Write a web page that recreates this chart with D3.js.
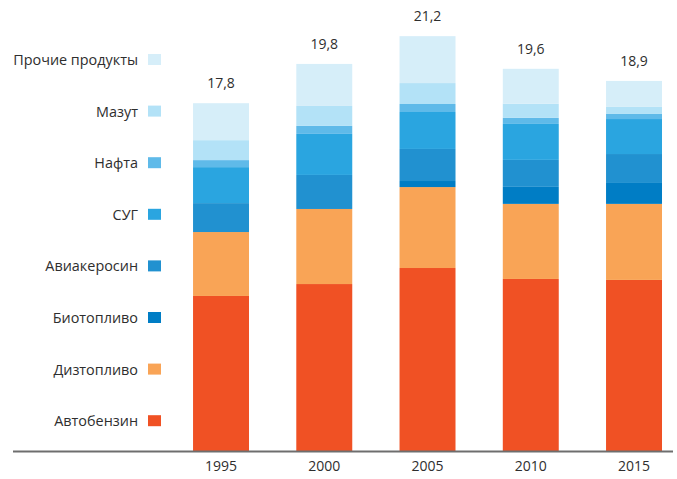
<!DOCTYPE html>
<html>
<head>
<meta charset="utf-8">
<script src="https://cdn.jsdelivr.net/npm/d3@7"></script>
<style>
  html, body { margin: 0; padding: 0; background: #fff; }
  svg { display: block; }
  text { font-family: "Open Sans", sans-serif; fill: #2e2e2e; }
</style>
</head>
<body>
<svg id="chart" width="677" height="479"></svg>
<script>
const years = ["1995", "2000", "2005", "2010", "2015"];
const totals = ["17,8", "19,8", "21,2", "19,6", "18,9"];
const seriesNames = ["Автобензин", "Дизтопливо", "Биотопливо", "Авиакеросин", "СУГ", "Нафта", "Мазут", "Прочие продукты"];
const avtobenzin = [7.93, 8.54, 9.36, 8.80, 8.75];
const diztoplivo = [3.27, 3.84, 4.14, 3.84, 3.89];
const biotoplivo = [0.00, 0.00, 0.31, 0.87, 1.07];
const aviakerosin = [1.48, 1.74, 1.64, 1.38, 1.48];
const sug = [1.84, 2.10, 1.89, 1.84, 1.79];
const nafta = [0.36, 0.41, 0.41, 0.31, 0.26];
const mazut = [1.02, 1.02, 1.07, 0.72, 0.36];
const prochie = [1.89, 2.15, 2.40, 1.79, 1.33];
const colors = ["#f05124", "#f9a456", "#007dc5", "#2191d0", "#2aa5e0", "#5fbae9", "#b3e2f7", "#d6eef9"];

const seriesValues = [avtobenzin, diztoplivo, biotoplivo, aviakerosin, sug, nafta, mazut, prochie];
const table = years.map((y, i) => {
  const row = { year: y };
  seriesNames.forEach((s, k) => row[s] = seriesValues[k][i]);
  return row;
});

const svg = d3.select("#chart");
const baseY = 451;
const y = d3.scaleLinear().domain([0, 22]).range([baseY, baseY - 22 * 19.55]);
const x = d3.scaleBand().domain(years).range([169.4, 685.65]).paddingInner(0.458).paddingOuter(0.229);
const color = d3.scaleOrdinal().domain(seriesNames).range(colors);

const stack = d3.stack().keys(seriesNames);
const stacked = stack(table);

svg.append("g").selectAll("g").data(stacked).join("g")
  .attr("fill", d => color(d.key))
  .selectAll("rect").data(d => d).join("rect")
  .attr("x", d => x(d.data.year))
  .attr("width", x.bandwidth())
  .attr("y", d => y(d[1]))
  .attr("height", d => y(d[0]) - y(d[1]));

// totals
svg.append("g").selectAll("text").data(years).join("text")
  .attr("x", d => x(d) + x.bandwidth() / 2)
  .attr("y", (d, i) => y(d3.sum(seriesValues, s => s[i])) - 15)
  .attr("text-anchor", "middle")
  .style("font-size", "14px")
  .text((d, i) => totals[i]);

// axis
const axis = d3.axisBottom(x).tickSize(0).tickPadding(10);
const gx = svg.append("g").attr("transform", `translate(0,${baseY})`).call(axis);
gx.select(".domain").remove();
gx.selectAll("text").style("font-size", "14px").style("font-family", "'Open Sans', sans-serif").attr("fill", "#2e2e2e");
svg.append("line").attr("x1", 13).attr("x2", 673).attr("y1", baseY + 0.5).attr("y2", baseY + 0.5)
  .attr("stroke", "#6e6e6e").attr("stroke-width", 2);

// legend
const legendNames = seriesNames.slice().reverse();
const lg = svg.append("g").selectAll("g").data(legendNames).join("g")
  .attr("transform", (d, i) => `translate(0,${59.5 + i * 51.6})`);
lg.append("rect").attr("x", 148).attr("y", -5.5).attr("width", 13).attr("height", 11)
  .attr("fill", d => color(d));
lg.append("text").attr("x", 138).attr("y", 5.5).attr("text-anchor", "end")
  .style("font-size", "14.4px").text(d => d);
</script>
</body>
</html>
